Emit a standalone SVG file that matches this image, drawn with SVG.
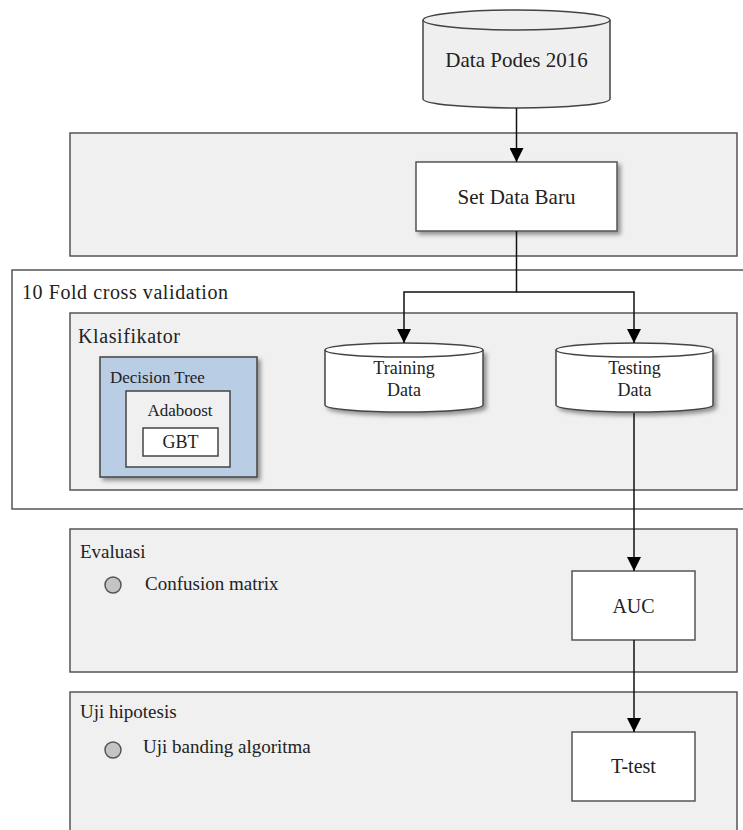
<svg xmlns="http://www.w3.org/2000/svg" width="743" height="830" viewBox="0 0 743 830">
<defs>
<filter id="sh" x="-10%" y="-10%" width="130%" height="140%">
<feDropShadow dx="3" dy="3" stdDeviation="2" flood-color="#000" flood-opacity="0.4"/>
</filter>
<marker id="ar" viewBox="0 0 14 14" refX="14" refY="7" markerWidth="14" markerHeight="14" markerUnits="userSpaceOnUse" orient="auto">
<path d="M0 0 L14 7 L0 14 Z" fill="#000"/>
</marker>
</defs>
<style>
.panel{fill:#f0f0f0;stroke:#555;stroke-width:1.5}
.box{fill:#fff;stroke:#555;stroke-width:1.5}
.t{font-family:"Liberation Serif","Times New Roman",serif;fill:#222}
.c{text-anchor:middle}
.conn{fill:none;stroke:#111;stroke-width:1.5}
</style>
<rect width="743" height="830" fill="#fff"/>

<g id="panel-top">
<rect class="panel" x="70" y="133" width="667" height="123"/>
</g>
<g id="panel-cv">
<path d="M743 270 H12 V509 H743" fill="#fff" stroke="#555" stroke-width="1.5"/>
<text class="t" x="22" y="299" font-size="20" textLength="206" lengthAdjust="spacing">10 Fold cross validation</text>
</g>
<g id="panel-klasifikator">
<rect class="panel" x="70" y="313" width="667" height="177"/>
<text class="t" x="78" y="343" font-size="20" textLength="102" lengthAdjust="spacing">Klasifikator</text>
</g>
<g id="panel-evaluasi">
<rect class="panel" x="70" y="529" width="667" height="143"/>
<text class="t" x="80" y="558" font-size="19">Evaluasi</text>
<circle cx="113" cy="585" r="8" fill="#c4c4c4" stroke="#555" stroke-width="1.5"/>
<text class="t" x="145" y="590" font-size="19">Confusion matrix</text>
</g>
<g id="panel-uji">
<path d="M70 832 V692 H737 V832" class="panel"/>
<text class="t" x="80" y="718" font-size="19">Uji hipotesis</text>
<circle cx="113" cy="750" r="8" fill="#c4c4c4" stroke="#555" stroke-width="1.5"/>
<text class="t" x="143" y="753" font-size="19">Uji banding algoritma</text>
</g>

<g id="data-podes">
<path d="M423 20 V99 A93.5 9 0 0 0 610 99 V20" fill="#efefef" stroke="#444" stroke-width="1.5"/>
<ellipse cx="516.5" cy="20" rx="93.5" ry="10" fill="#efefef" stroke="#444" stroke-width="1.5"/>
<text class="t c" x="516.5" y="67" font-size="21">Data Podes 2016</text>
</g>

<g id="set-data-baru">
<rect class="box" x="416" y="162" width="201" height="69" filter="url(#sh)"/>
<text class="t c" x="516.5" y="204" font-size="21">Set Data Baru</text>
</g>

<g id="decision-tree">
<rect x="100" y="357" width="157" height="120" fill="#b9cde5" stroke="#444" stroke-width="1.5" filter="url(#sh)"/>
<text class="t" x="110" y="383" font-size="17">Decision Tree</text>
<g id="adaboost">
<rect x="126" y="391" width="104" height="76" fill="#f0f0f0" stroke="#444" stroke-width="1.5"/>
<text class="t c" x="180" y="416" font-size="17">Adaboost</text>
</g>
<g id="gbt">
<rect x="143" y="428" width="75" height="28" fill="#fff" stroke="#444" stroke-width="1.5"/>
<text class="t c" x="180.5" y="448" font-size="18">GBT</text>
</g>
</g>

<g id="training-data">
<path d="M325 350 V405 A79 7 0 0 0 483 405 V350" fill="#fff" stroke="#444" stroke-width="1.5" filter="url(#sh)"/>
<ellipse cx="404" cy="350" rx="79" ry="7" fill="#fff" stroke="#444" stroke-width="1.5"/>
<text class="t c" x="404" y="374" font-size="18">Training</text>
<text class="t c" x="404" y="396" font-size="18">Data</text>
</g>

<g id="testing-data">
<path d="M556 350 V405 A78.5 7 0 0 0 713 405 V350" fill="#fff" stroke="#444" stroke-width="1.5" filter="url(#sh)"/>
<ellipse cx="634.5" cy="350" rx="78.5" ry="7" fill="#fff" stroke="#444" stroke-width="1.5"/>
<text class="t c" x="634.5" y="374" font-size="18">Testing</text>
<text class="t c" x="634.5" y="396" font-size="18">Data</text>
</g>

<g id="auc">
<rect class="box" x="572" y="571" width="123" height="69"/>
<text class="t c" x="633.5" y="613" font-size="20">AUC</text>
</g>

<g id="t-test">
<rect class="box" x="572" y="732" width="123" height="69"/>
<text class="t c" x="633.5" y="773" font-size="20">T-test</text>
</g>

<g id="connectors">
<path class="conn" d="M516.5 108 V162" marker-end="url(#ar)"/>
<path class="conn" d="M516.5 231 V292 H404 V343" marker-end="url(#ar)"/>
<path class="conn" d="M516.5 292 H634 V343" marker-end="url(#ar)"/>
<path class="conn" d="M634 413 V571" marker-end="url(#ar)"/>
<path class="conn" d="M634 640 V732" marker-end="url(#ar)"/>
</g>
</svg>
